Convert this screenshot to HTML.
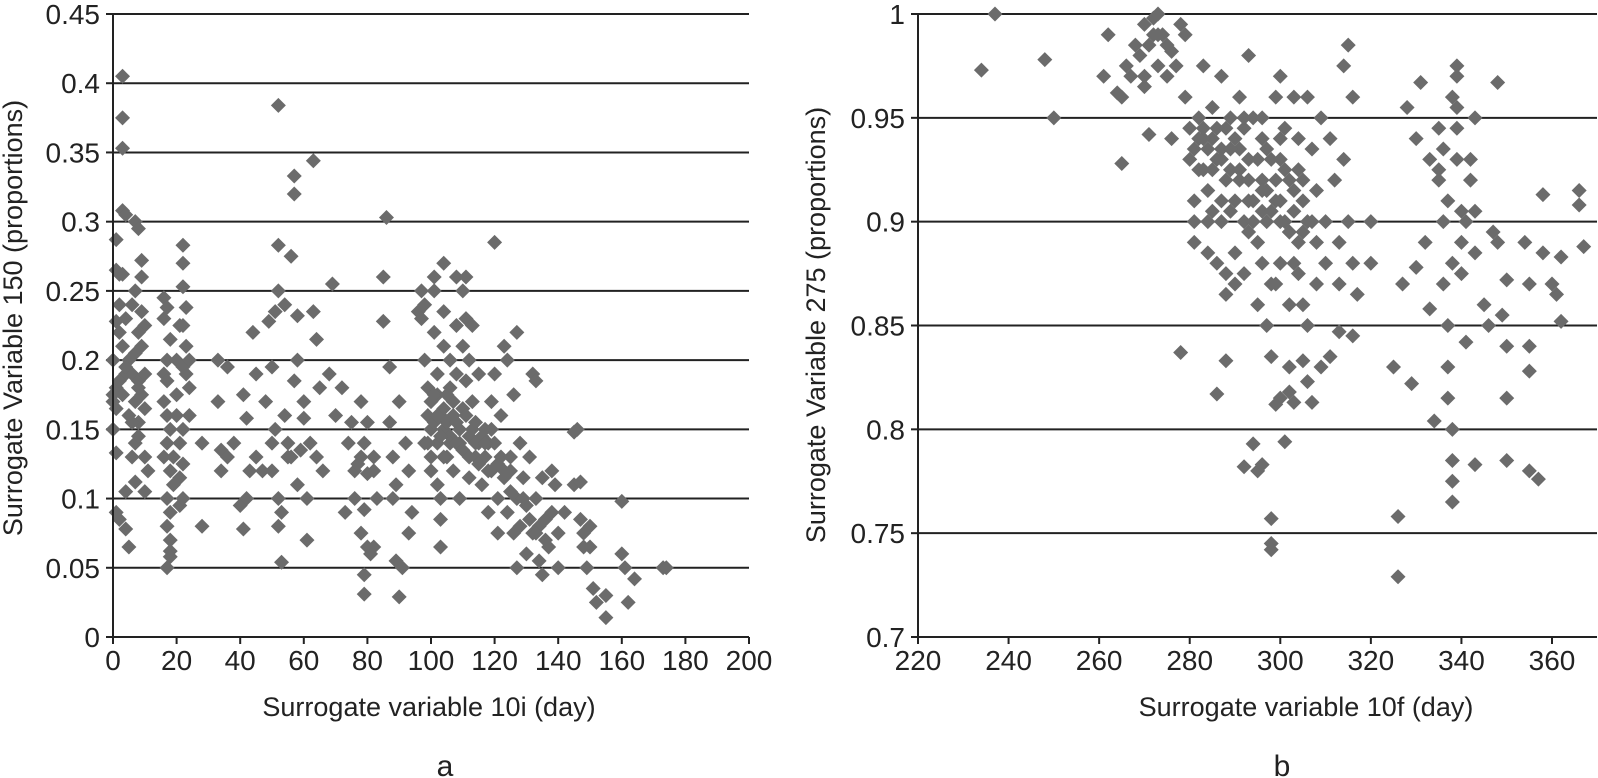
<!DOCTYPE html>
<html><head><meta charset="utf-8">
<style>
html,body{margin:0;padding:0;background:#fff;}
svg{display:block;font-family:"Liberation Sans",Arial,sans-serif;}
</style></head>
<body>
<svg id="fig" width="1598" height="778" viewBox="0 0 1598 778"></svg>
<script>
// ---- Chart a data ----
const aXTicks=[0,20,40,60,80,100,120,140,160,180,200];
const aYTicks=[0,0.05,0.1,0.15,0.2,0.25,0.3,0.35,0.4,0.45];
const aYLabels=["0","0.05","0.1","0.15","0.2","0.25","0.3","0.35","0.4","0.45"];
const aX=[1,1,2,1,2,0,1,0,1,0,1,1,2,3,3,3,3,4,3,4,3,4,3,5,4,4,5,6,7,8,7,7,6,8,7,8,7,8,7,9,9,9,10,9,10,9,10,10,11,8,2,5,6,
16,17,16,17,16,17,16,17,18,17,16,18,17,18,17,18,18,18,17,19,20,20,19,21,21,22,22,22,23,22,23,22,23,24,22,21,22,21,24,
28,28,33,33,34,34,36,36,38,40,41,41,42,42,43,44,45,45,47,48,50,49,50,51,52,52,52,51,52,53,53,52,54,55,55,54,56,57,57,58,58,57,58,59,60,60,61,61,62,
63,63,64,64,65,66,68,69,70,72,73,74,75,76,76,77,78,78,79,79,80,80,79,79,80,81,82,82,83,85,85,86,87,87,88,88,89,89,90,91,90,92,93,93,94,
96,97,98,98,99,99,100,100,100,101,101,101,102,102,102,102,103,103,103,104,104,104,104,104,105,105,106,106,106,107,107,108,108,108,108,109,109,110,110,110,111,111,111,112,112,112,113,113,114,114,115,115,116,117,117,118,118,119,119,120,120,120,121,121,122,122,123,123,124,124,125,125,126,126,127,127,127,128,128,129,130,130,131,132,132,133,133,134,134,135,135,136,137,138,138,139,140,140,142,145,145,146,147,147,148,148,149,150,150,151,152,155,155,160,160,161,162,164,173,174,97,98,101,103,
0,2,4,6,8,10,18,20,22,24,99,100,101,102,103,104,105,106,107,108,109,110,111,112,113,114,115,116,117,118,119,121,123,125,129,131,133,136,78,82,50,56];
const aY=[0.287,0.265,0.262,0.228,0.22,0.2,0.18,0.17,0.165,0.15,0.133,0.09,0.085,0.405,0.375,0.353,0.308,0.305,0.262,0.23,0.21,0.19,0.175,0.16,0.105,0.078,0.065,0.24,0.3,0.295,0.25,0.205,0.19,0.185,0.17,0.155,0.14,0.145,0.112,0.272,0.26,0.235,0.225,0.21,0.19,0.175,0.13,0.105,0.12,0.22,0.24,0.2,0.13,
0.245,0.238,0.23,0.2,0.19,0.185,0.17,0.16,0.15,0.14,0.13,0.12,0.1,0.09,0.08,0.07,0.062,0.058,0.05,0.11,0.2,0.175,0.13,0.225,0.095,0.283,0.27,0.253,0.238,0.225,0.21,0.195,0.19,0.18,0.15,0.115,0.1,0.14,0.2,
0.08,0.14,0.2,0.17,0.135,0.12,0.13,0.195,0.14,0.095,0.078,0.175,0.158,0.1,0.12,0.22,0.19,0.13,0.12,0.17,0.195,0.228,0.12,0.235,0.25,0.283,0.384,0.15,0.1,0.09,0.054,0.08,0.24,0.14,0.13,0.16,0.275,0.32,0.333,0.232,0.2,0.185,0.11,0.135,0.158,0.17,0.1,0.07,0.14,
0.344,0.235,0.215,0.13,0.18,0.12,0.19,0.255,0.16,0.18,0.09,0.14,0.155,0.12,0.1,0.125,0.17,0.075,0.14,0.092,0.118,0.155,0.045,0.031,0.065,0.06,0.065,0.13,0.1,0.26,0.228,0.303,0.195,0.155,0.1,0.13,0.11,0.055,0.029,0.05,0.17,0.14,0.12,0.075,0.09,
0.235,0.23,0.24,0.2,0.18,0.16,0.15,0.13,0.12,0.26,0.25,0.22,0.19,0.175,0.14,0.11,0.1,0.085,0.065,0.27,0.235,0.21,0.165,0.15,0.13,0.155,0.2,0.18,0.145,0.17,0.12,0.26,0.225,0.19,0.155,0.14,0.1,0.25,0.21,0.165,0.26,0.23,0.185,0.2,0.145,0.115,0.225,0.17,0.155,0.13,0.19,0.14,0.11,0.15,0.13,0.14,0.09,0.12,0.17,0.285,0.19,0.14,0.1,0.075,0.13,0.16,0.21,0.115,0.2,0.09,0.13,0.12,0.175,0.075,0.22,0.1,0.05,0.08,0.14,0.115,0.095,0.06,0.13,0.19,0.075,0.185,0.1,0.055,0.08,0.115,0.045,0.085,0.065,0.12,0.09,0.11,0.075,0.05,0.09,0.11,0.148,0.15,0.112,0.085,0.075,0.065,0.05,0.08,0.065,0.035,0.025,0.03,0.014,0.098,0.06,0.05,0.025,0.042,0.05,0.05,0.25,0.14,0.175,0.16,
0.175,0.185,0.195,0.155,0.18,0.165,0.215,0.16,0.125,0.16,0.14,0.17,0.155,0.16,0.145,0.13,0.175,0.14,0.16,0.14,0.15,0.135,0.16,0.13,0.15,0.14,0.125,0.145,0.14,0.12,0.15,0.125,0.12,0.105,0.1,0.085,0.075,0.07,0.13,0.12,0.14,0.13];
// ---- Chart b data ----
const bXTicks=[220,240,260,280,300,320,340,360];
const bYTicks=[0.7,0.75,0.8,0.85,0.9,0.95,1];
const bYLabels=["0.7","0.75","0.8","0.85","0.9","0.95","1"];
const bX=[234,237,248,250,261,262,264,265,265,266,267,268,269,270,270,271,272,272,273,273,274,275,276,276,277,278,279,279,280,280,281,281,282,283,283,284,285,285,286,286,287,287,288,288,289,289,290,290,291,291,292,292,293,293,294,294,295,295,296,296,297,297,298,298,298,299,299,300,300,300,301,301,302,302,302,303,303,304,304,305,305,306,306,307,307,308,308,309,309,310,310,311,312,313,313,314,314,315,315,316,316,316,317,320,320,278,286,288,292,294,295,296,298,298,298,299,301,302,303,305,307,306,311,313,325,326,326,327,328,329,330,330,331,332,333,333,334,335,335,336,336,337,337,337,338,338,338,338,338,339,339,339,339,340,340,341,342,343,343,343,343,345,346,347,348,348,349,350,350,350,350,354,355,355,355,355,357,358,358,360,361,362,362,366,366,367,270,283,284,282,287,289,293,296,300,303,300,297,291,285,
281,282,283,284,285,286,287,288,289,290,291,292,293,294,295,296,297,298,299,300,301,302,303,304,305,306,281,284,287,290,293,296,299,302,305,308,288,292,296,300,304,271,273,275,335,336,337,338,339,340,341,342];
const bY=[0.973,1.0,0.978,0.95,0.97,0.99,0.962,0.96,0.928,0.975,0.97,0.985,0.98,0.995,0.965,0.942,0.998,0.99,1.0,0.975,0.99,0.97,0.982,0.94,0.975,0.995,0.96,0.99,0.945,0.93,0.91,0.89,0.95,0.975,0.925,0.9,0.955,0.94,0.93,0.88,0.97,0.91,0.875,0.865,0.95,0.905,0.94,0.885,0.92,0.96,0.9,0.875,0.98,0.93,0.95,0.91,0.89,0.86,0.94,0.92,0.9,0.85,0.93,0.87,0.835,0.96,0.91,0.97,0.88,0.815,0.945,0.9,0.92,0.86,0.83,0.96,0.905,0.94,0.875,0.92,0.895,0.96,0.85,0.935,0.9,0.915,0.87,0.95,0.83,0.9,0.88,0.94,0.92,0.89,0.87,0.975,0.93,0.985,0.9,0.96,0.88,0.845,0.865,0.9,0.88,0.837,0.817,0.833,0.782,0.793,0.78,0.783,0.757,0.745,0.742,0.812,0.794,0.818,0.813,0.833,0.813,0.823,0.835,0.847,0.83,0.758,0.729,0.87,0.955,0.822,0.878,0.94,0.967,0.89,0.858,0.93,0.804,0.945,0.92,0.9,0.87,0.85,0.83,0.815,0.8,0.785,0.775,0.765,0.96,0.975,0.97,0.955,0.93,0.89,0.875,0.842,0.92,0.95,0.905,0.885,0.783,0.86,0.85,0.895,0.967,0.89,0.855,0.872,0.84,0.815,0.785,0.89,0.84,0.828,0.87,0.78,0.776,0.913,0.885,0.87,0.865,0.852,0.883,0.915,0.908,0.888,0.97,0.94,0.935,0.94,0.935,0.925,0.91,0.905,0.93,0.88,0.9,0.915,0.935,0.905,
0.935,0.925,0.945,0.915,0.925,0.945,0.93,0.92,0.935,0.91,0.925,0.945,0.92,0.9,0.93,0.915,0.935,0.905,0.92,0.91,0.925,0.895,0.915,0.89,0.91,0.9,0.9,0.885,0.9,0.87,0.895,0.88,0.87,0.895,0.86,0.89,0.945,0.95,0.95,0.94,0.925,0.985,0.99,0.985,0.925,0.935,0.91,0.88,0.945,0.905,0.9,0.93];

const NS="http://www.w3.org/2000/svg";
const svg=document.getElementById('fig');
function mk(tag,attrs,parent){const e=document.createElementNS(NS,tag);for(const k in attrs)e.setAttribute(k,attrs[k]);(parent||svg).appendChild(e);return e;}

function chart(cfg){
  const g=mk('g',{});
  
  
  const sx=v=>cfg.x0+(v-cfg.xmin)/(cfg.xmax-cfg.xmin)*(cfg.x1-cfg.x0);
  const sy=v=>cfg.y0+(v-cfg.ymin)/(cfg.ymax-cfg.ymin)*(cfg.y1-cfg.y0);
  const right=cfg.xEnd;
  cfg.yTicks.forEach((t,i)=>{
    const y=sy(t);
    if(i>0){const l=mk('line',{x1:cfg.x0,x2:right,y1:y,y2:y,stroke:'#222','stroke-width':2},g);
      }
    mk('line',{x1:cfg.x0-7,x2:cfg.x0,y1:y,y2:y,stroke:'#222','stroke-width':2},g);
    const tx=mk('text',{x:cfg.x0-13,y:y+10,'text-anchor':'end','font-size':28,fill:'#222'},g);
    tx.textContent=cfg.yLabels[i];
    
  });
  cfg.xTicks.forEach(t=>{
    const x=sx(t);
    mk('line',{x1:x,x2:x,y1:cfg.y0,y2:cfg.y0+7,stroke:'#222','stroke-width':2},g);
    const tx=mk('text',{x:x,y:cfg.y0+33,'text-anchor':'middle','font-size':28,fill:'#222'},g);
    tx.textContent=t;
    
  });
  const pts=mk('g',{fill:'#6b6b6b'},g);
  
  cfg.xs.forEach((xv,i)=>{
    const x=sx(xv),y=sy(cfg.ys[i]),r=7.5;
    const p=mk('polygon',{points:`${x},${y-r} ${x+r},${y} ${x},${y+r} ${x-r},${y}`},pts);
    
    
  });
  const ax=mk('line',{x1:cfg.x0,x2:cfg.x0,y1:cfg.y1,y2:cfg.y0,stroke:'#222','stroke-width':2},g);
  
  const bx=mk('line',{x1:cfg.x0,x2:right,y1:cfg.y0,y2:cfg.y0,stroke:'#222','stroke-width':2},g);
  
  const xt=mk('text',{x:cfg.xTitleX,y:716,'text-anchor':'middle','font-size':27,fill:'#222'},g);
  xt.textContent=cfg.xTitle;
  const yt=mk('text',{x:0,y:0,'text-anchor':'middle','font-size':27,fill:'#222',transform:`translate(${cfg.yTitleX},${cfg.yTitleY}) rotate(-90)`},g);
  yt.textContent=cfg.yTitle;
  const pl=mk('text',{x:cfg.panelX,y:776,'text-anchor':'middle','font-size':30,fill:'#222'},g);
  pl.textContent=cfg.panel;
}
chart({name:'chart-a',xs:aX,ys:aY,xTicks:aXTicks,yTicks:aYTicks,yLabels:aYLabels,xmin:0,xmax:200,ymin:0,ymax:0.45,
  x0:113,x1:749,y0:637,y1:14,xEnd:749,xTitle:'Surrogate variable 10i (day)',xTitleX:429,yTitle:'Surrogate Variable 150 (proportions)',yTitleX:22,yTitleY:318,panel:'a',panelX:445});
chart({name:'chart-b',xs:bX,ys:bY,xTicks:bXTicks,yTicks:bYTicks,yLabels:bYLabels,xmin:220,xmax:360,ymin:0.7,ymax:1,
  x0:918,x1:1552,y0:637,y1:14,xEnd:1597,xTitle:'Surrogate variable 10f (day)',xTitleX:1306,yTitle:'Surrogate Variable 275 (proportions)',yTitleX:825,yTitleY:325,panel:'b',panelX:1282});
</script>
</body></html>
